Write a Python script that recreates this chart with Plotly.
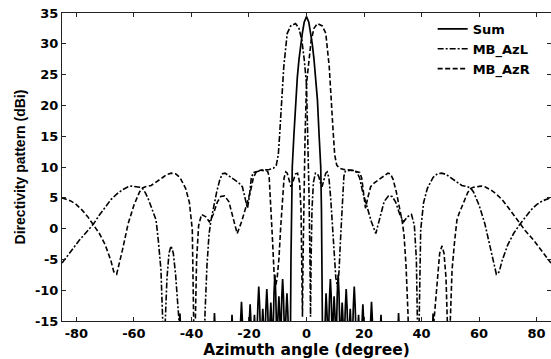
import plotly.graph_objects as go

# ---------------- data ----------------
x_ticks = [-80, -60, -40, -20, 0, 20, 40, 60, 80]
y_ticks = [-15, -10, -5, 0, 5, 10, 15, 20, 25, 30, 35]
series_names = ["Sum", "MB_AzL", "MB_AzR"]

# Sum pattern: (azimuth deg, directivity dBi)
sum_pts = [
    (-85, -30), (-45.0, -30), (-44.3, -17), (-44.0, -13.8), (-43.7, -17), (-43.0, -30),
    (-33.0, -30), (-32.3, -17), (-32.0, -13.7), (-31.7, -17), (-31.0, -30),
    (-27.0, -30), (-26.2, -17), (-25.9, -14), (-25.6, -17), (-25.05, -19),
    (-24.2, -16), (-23.4, -19), (-22.9, -14.9), (-22.6, -11.9), (-22.3, -14.9),
    (-21.85, -19), (-21.1, -15.5), (-20.35, -19), (-19.9, -15.3), (-19.6, -12.3),
    (-19.3, -15.3), (-18.85, -19), (-18.4, -17), (-18.1, -14), (-17.8, -17),
    (-17.35, -19), (-16.9, -12.4), (-16.6, -9.4), (-16.3, -12.4), (-15.9, -19),
    (-15.5, -16), (-15.2, -13), (-14.9, -16), (-14.5, -19), (-14.1, -12.8),
    (-13.8, -9.8), (-13.5, -12.8), (-13.1, -19), (-12.7, -15), (-12.4, -12),
    (-12.1, -15), (-11.7, -19), (-11.3, -10.5), (-11.0, -7.5), (-10.7, -10.5),
    (-10.3, -19), (-9.9, -14), (-9.6, -11), (-9.3, -14), (-8.95, -19),
    (-8.6, -11.2), (-8.3, -8.2), (-8.0, -11.2), (-7.55, -19), (-7.1, -13.5),
    (-6.8, -10.5), (-6.5, -13.5), (-6.2, -19), (-5.7, -25), (-5.4, -5),
    (-5.2, 3), (-4.95, 10), (-4.4, 15), (-3.8, 20.9), (-3.2, 24.5), (-2.6, 27.5),
    (-2.0, 30), (-1.45, 31.7), (-0.8, 33.5), (0, 34.4),
    (0.8, 33.5), (1.45, 31.7), (2.0, 30), (2.6, 27.5), (3.2, 24.5), (3.8, 20.9),
    (4.4, 15), (4.95, 10), (5.2, 3), (5.4, -5), (5.7, -25),
    (6.2, -19), (6.5, -13.5), (6.8, -10.5), (7.1, -13.5), (7.55, -19),
    (8.0, -11.2), (8.3, -8.2), (8.6, -11.2), (8.95, -19), (9.3, -14),
    (9.6, -11), (9.9, -14), (10.3, -19), (10.7, -10.5), (11.0, -7.5),
    (11.3, -10.5), (11.7, -19), (12.1, -15), (12.4, -12), (12.7, -15),
    (13.1, -19), (13.5, -12.8), (13.8, -9.8), (14.1, -12.8), (14.5, -19),
    (14.9, -16), (15.2, -13), (15.5, -16), (15.9, -19), (16.3, -12.4),
    (16.6, -9.4), (16.9, -12.4), (17.35, -19), (17.8, -17), (18.1, -14),
    (18.4, -17), (18.85, -19), (19.3, -15.3), (19.6, -12.3), (19.9, -15.3),
    (20.35, -19), (21.1, -15.5), (21.85, -19), (22.3, -14.9), (22.6, -11.9),
    (22.9, -14.9), (23.4, -19), (24.2, -16), (25.05, -19), (25.6, -17),
    (25.9, -14), (26.2, -17), (27.0, -30), (31.0, -30), (31.7, -17),
    (32.0, -13.7), (32.3, -17), (33.0, -30), (43.0, -30), (43.7, -17),
    (44.0, -13.8), (44.3, -17), (45.0, -30), (85, -30),
]

# MB_AzL pattern (left-squinted beam)
azl_pts = [
    (-85, -5.6), (-82, -3.8), (-79, -1.9), (-76, -0.3), (-74, 0.8), (-72, 2.2),
    (-70, 3.5), (-68, 4.7), (-66, 5.6), (-64, 6.3), (-62, 6.8), (-61, 6.9),
    (-60, 6.85), (-58, 6.7), (-57, 6.5), (-56, 5.8), (-55, 4.8), (-54, 3.5),
    (-53, 2.4), (-52.3, 1.4), (-51.5, -2.0), (-50.6, -6.7), (-50.0, -14.8),
    (-49.6, -25), (-49.1, -15), (-48.5, -8), (-47.8, -4), (-47.1, -2.8),
    (-46.3, -4), (-45.5, -7.5), (-44.8, -12), (-44.3, -15), (-44.0, -25),
    (-42, -20), (-40, -25), (-37.5, -19), (-35.8, -25), (-35.3, -14),
    (-34.6, -6), (-33.9, -1), (-33.3, 1.1), (-32.3, 3.5), (-31.2, 6.0),
    (-30.1, 8.0), (-29.2, 8.9), (-28.3, 9.0), (-27, 8.6), (-25.5, 8.1),
    (-23.5, 7.4), (-22.3, 6.8), (-21.3, 5.0), (-20.5, 3.3), (-19.8, 5.5),
    (-19.2, 8.2), (-18.5, 9.1), (-17, 9.3), (-15, 9.5), (-13, 9.6),
    (-11.5, 9.8), (-10.5, 10.3), (-9.8, 12.0), (-9.3, 15.5), (-8.5, 20.9),
    (-7.9, 26.3), (-6.7, 31.7), (-5.5, 32.9), (-3.8, 33.3), (-2.6, 32.5),
    (-1.6, 30.5), (-0.8, 27.5), (0, 23.5), (0.5, 15), (0.9, 5), (1.2, -5),
    (1.4, -14.3), (1.6, -5), (1.9, 3), (2.4, 7.5), (3.1, 9.0), (3.8, 8.9),
    (4.3, 8.4), (5.0, 7.2), (5.4, 6.8), (6.0, 7.8), (6.7, 9.0), (7.2, 9.2),
    (7.8, 8.2), (8.4, 5.0), (9.0, 0), (9.6, -5), (10.2, -8), (10.8, -9.5),
    (11.3, -7), (11.8, -2), (12.4, 4), (13.0, 8.5), (13.5, 9.3), (15.8, 9.5),
    (17.5, 9.2), (18.5, 8.2), (19.5, 6.0), (21, 3.6), (22.5, 1.2), (24.1, -0.8),
    (25.5, 1.8), (27, 4.4), (28.5, 5.3), (29.8, 5.2), (31, 4.3), (32.5, 2.2),
    (33.8, 1.1), (35, 1.9), (36.5, 2.3), (37.5, 0.5), (38.2, -5), (38.6, -14),
    (38.9, -25), (39.2, -14), (39.5, -5), (39.7, -0.2), (40.7, 4.2), (42, 6.5),
    (44, 8.3), (45.5, 8.9), (47, 9.0), (48.5, 8.8), (50, 8.3), (52, 7.6),
    (54, 7.0), (56, 6.8), (57, 6.6), (58, 6.0), (60, 3.8), (62, 0.8),
    (64, -3.5), (66, -7.4), (67, -7.0), (68, -5.2), (70, -2.6), (72, -0.8),
    (74, 0.6), (76, 1.9), (78, 3.0), (80, 3.9), (82, 4.5), (85, 5.0),
]

# MB_AzR pattern (right-squinted beam)
azr_pts = [
    (-85, 5.0), (-82, 4.5), (-80, 3.9), (-78, 3.0), (-76, 1.9), (-74, 0.6),
    (-72, -0.8), (-70, -2.6), (-68, -5.2), (-67, -7.0), (-66, -7.4), (-64, -3.5),
    (-62, 0.8), (-60, 3.8), (-58, 6.0), (-57, 6.6), (-56, 6.8), (-54, 7.0),
    (-52, 7.6), (-50, 8.3), (-48.5, 8.8), (-47, 9.0), (-45.5, 8.9), (-44, 8.3),
    (-42, 6.5), (-40.7, 4.2), (-39.7, -0.2), (-39.5, -5), (-39.2, -14),
    (-38.9, -25), (-38.6, -14), (-38.2, -5), (-37.5, 0.5), (-36.5, 2.3),
    (-35, 1.9), (-33.8, 1.1), (-32.5, 2.2), (-31, 4.3), (-29.8, 5.2),
    (-28.5, 5.3), (-27, 4.4), (-25.5, 1.8), (-24.1, -0.8), (-22.5, 1.2),
    (-21, 3.6), (-19.5, 6.0), (-18.5, 8.2), (-17.5, 9.2), (-15.8, 9.5),
    (-13.5, 9.3), (-13.0, 8.5), (-12.4, 4), (-11.8, -2), (-11.3, -7),
    (-10.8, -9.5), (-10.2, -8), (-9.6, -5), (-9.0, 0), (-8.4, 5.0), (-7.8, 8.2),
    (-7.2, 9.2), (-6.7, 9.0), (-6.0, 7.8), (-5.4, 6.8), (-5.0, 7.2), (-4.3, 8.4),
    (-3.8, 8.9), (-3.1, 9.0), (-2.4, 7.5), (-1.9, 3), (-1.6, -5), (-1.4, -14.3),
    (-1.2, -5), (-0.9, 5), (-0.5, 15), (0, 23.5), (0.8, 27.5), (1.6, 30.5),
    (2.6, 32.5), (3.8, 33.3), (5.5, 32.9), (6.7, 31.7), (7.9, 26.3), (8.5, 20.9),
    (9.3, 15.5), (9.8, 12.0), (10.5, 10.3), (11.5, 9.8), (13, 9.6), (15, 9.5),
    (17, 9.3), (18.5, 9.1), (19.2, 8.2), (19.8, 5.5), (20.5, 3.3), (21.3, 5.0),
    (22.3, 6.8), (23.5, 7.4), (25.5, 8.1), (27, 8.6), (28.3, 9.0), (29.2, 8.9),
    (30.1, 8.0), (31.2, 6.0), (32.3, 3.5), (33.3, 1.1), (33.9, -1), (34.6, -6),
    (35.3, -14), (35.8, -25), (37.5, -19), (40, -25), (42, -20), (44.0, -25),
    (44.3, -15), (44.8, -12), (45.5, -7.5), (46.3, -4), (47.1, -2.8), (47.8, -4),
    (48.5, -8), (49.1, -15), (49.6, -25), (50.0, -14.8), (50.6, -6.7),
    (51.5, -2.0), (52.3, 1.4), (53, 2.4), (54, 3.5), (55, 4.8), (56, 5.8),
    (57, 6.5), (58, 6.7), (60, 6.85), (61, 6.9), (62, 6.8), (64, 6.3), (66, 5.6),
    (68, 4.7), (70, 3.5), (72, 2.2), (74, 0.8), (76, -0.3), (79, -1.9),
    (82, -3.8), (85, -5.6),
]

sum_x = [p[0] for p in sum_pts]
sum_y = [p[1] for p in sum_pts]
azl_x = [p[0] for p in azl_pts]
azl_y = [p[1] for p in azl_pts]
azr_x = [p[0] for p in azr_pts]
azr_y = [p[1] for p in azr_pts]

# ---------------- figure ----------------
fig = go.Figure()
fig.add_trace(go.Scatter(x=sum_x, y=sum_y, mode="lines", name=series_names[0],
                         line=dict(color="black", width=1.7, dash="solid")))
fig.add_trace(go.Scatter(x=azl_x, y=azl_y, mode="lines", name=series_names[1],
                         line=dict(color="black", width=1.6, dash="6px,2px,2px,2px")))
fig.add_trace(go.Scatter(x=azr_x, y=azr_y, mode="lines", name=series_names[2],
                         line=dict(color="black", width=1.6, dash="5px,2.5px")))

tick_font = dict(family="DejaVu Sans", size=13, color="black", weight="bold")

fig.update_layout(
    width=551, height=359,
    margin=dict(l=62, r=0, t=13, b=38),
    paper_bgcolor="white", plot_bgcolor="white",
    showlegend=True,
    legend=dict(x=0.758, y=0.997, xanchor="left", yanchor="top",
                bgcolor="rgba(0,0,0,0)", borderwidth=0,
                font=dict(family="DejaVu Sans", size=13, color="black", weight="bold"),
                tracegroupgap=0),
    xaxis=dict(range=[-85, 85], tickvals=x_ticks, ticktext=[str(v) for v in x_ticks],
               ticks="inside", ticklen=4, tickcolor="#222", showline=True,
               linecolor="#222", linewidth=1, mirror="ticks", showgrid=False,
               zeroline=False, tickfont=tick_font,
               title=dict(text="Azimuth angle (degree)", standoff=4,
                          font=dict(family="DejaVu Sans", size=15.5, color="black",
                                    weight="bold"))),
    yaxis=dict(range=[-15, 35], tickvals=y_ticks, ticktext=[str(v) for v in y_ticks],
               ticks="inside", ticklen=4, tickcolor="#222", showline=True,
               linecolor="#222", linewidth=1, mirror="ticks", showgrid=False,
               zeroline=False, tickfont=tick_font,
               title=dict(text="Directivity pattern (dBi)", standoff=6,
                          font=dict(family="Liberation Sans", size=14, color="black",
                                    weight="bold"))),
)

fig.write_html("out.html")
